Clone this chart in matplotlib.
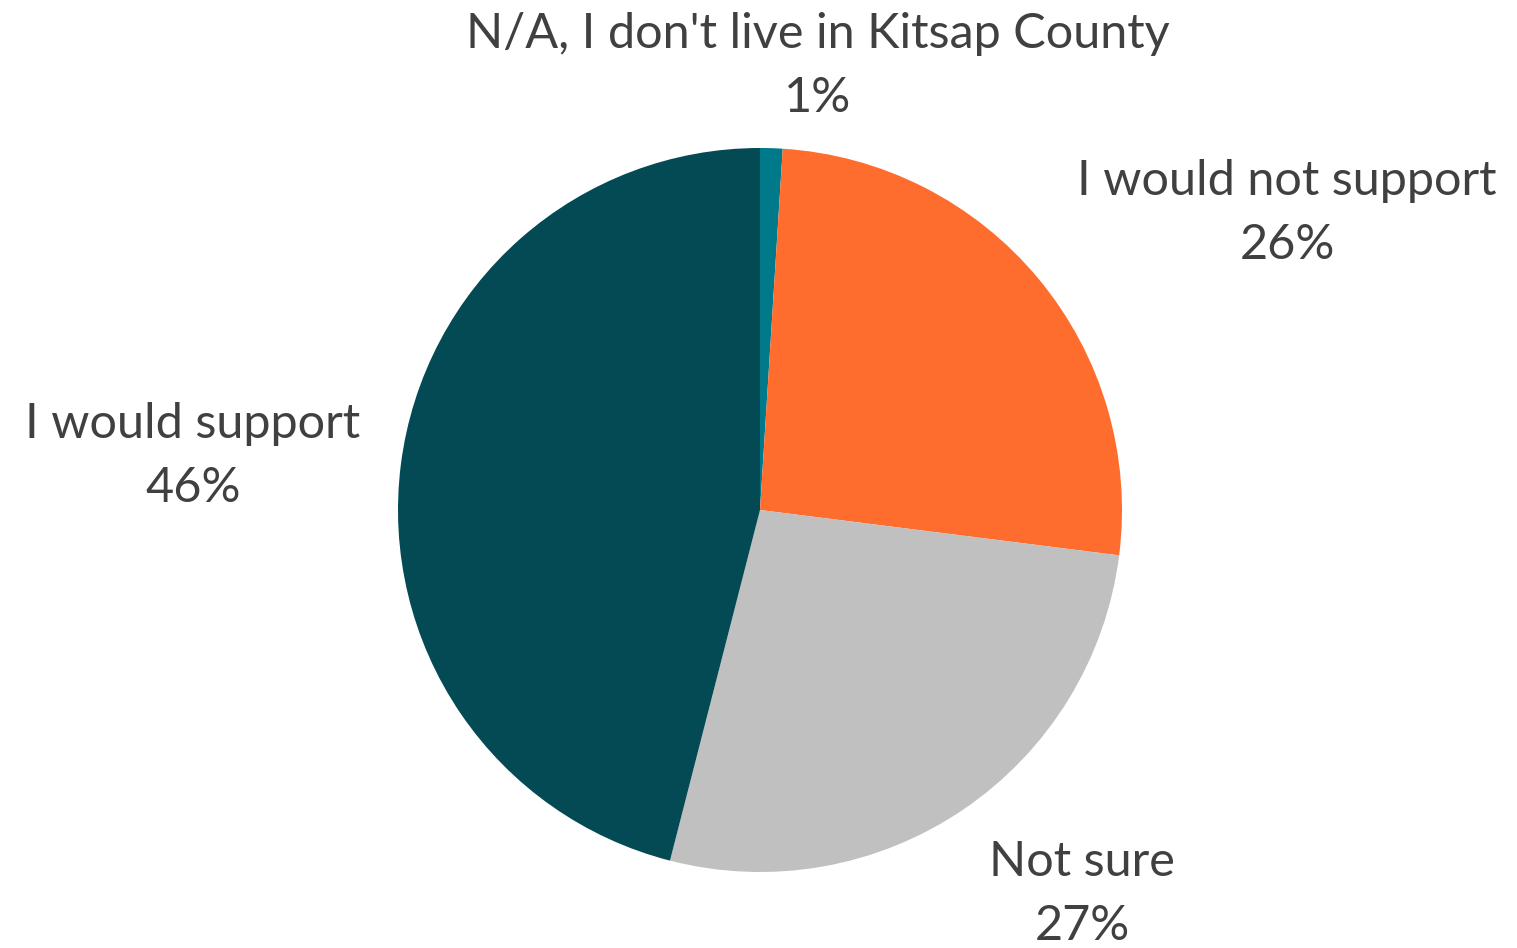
import matplotlib.pyplot as plt

# Survey responses (percent), clockwise from 12 o'clock
categories = ["N/A, I don't live in Kitsap County", "I would not support",
              "Not sure", "I would support"]
shares = [1, 26, 27, 46]
colors = ["#00798A", "#FF6D2E", "#C0C0C0", "#034A55"]

plt.rcParams['font.family'] = ['Lato', 'DejaVu Sans']
text_color = "#404040"

W, H = 1517, 948
fig = plt.figure(figsize=(W / 100, H / 100), dpi=100)

# pie centre and radius in pixels
cx, cy, r = 760, 510, 362
ax = fig.add_axes([(cx - r) / W, (H - cy - r) / H, 2 * r / W, 2 * r / H])
ax.pie(shares, colors=colors, startangle=90, counterclock=False,
       wedgeprops=dict(linewidth=0))
ax.set_xlim(-1, 1)
ax.set_ylim(-1, 1)
ax.set_aspect('equal')
ax.axis('off')

# label anchor points (pixel centre of the two-line block)
label_pos = [(818, 66), (1287, 213), (193, 456), (1082, 894)]
order = [0, 1, 3, 2]
for i, (x, y) in zip(order, label_pos):
    fig.text(x / W, 1 - y / H, f"{categories[i]}\n{shares[i]}%",
             ha='center', va='center', fontsize=35, color=text_color,
             linespacing=1.56)

fig.savefig("out.png", dpi=100)
